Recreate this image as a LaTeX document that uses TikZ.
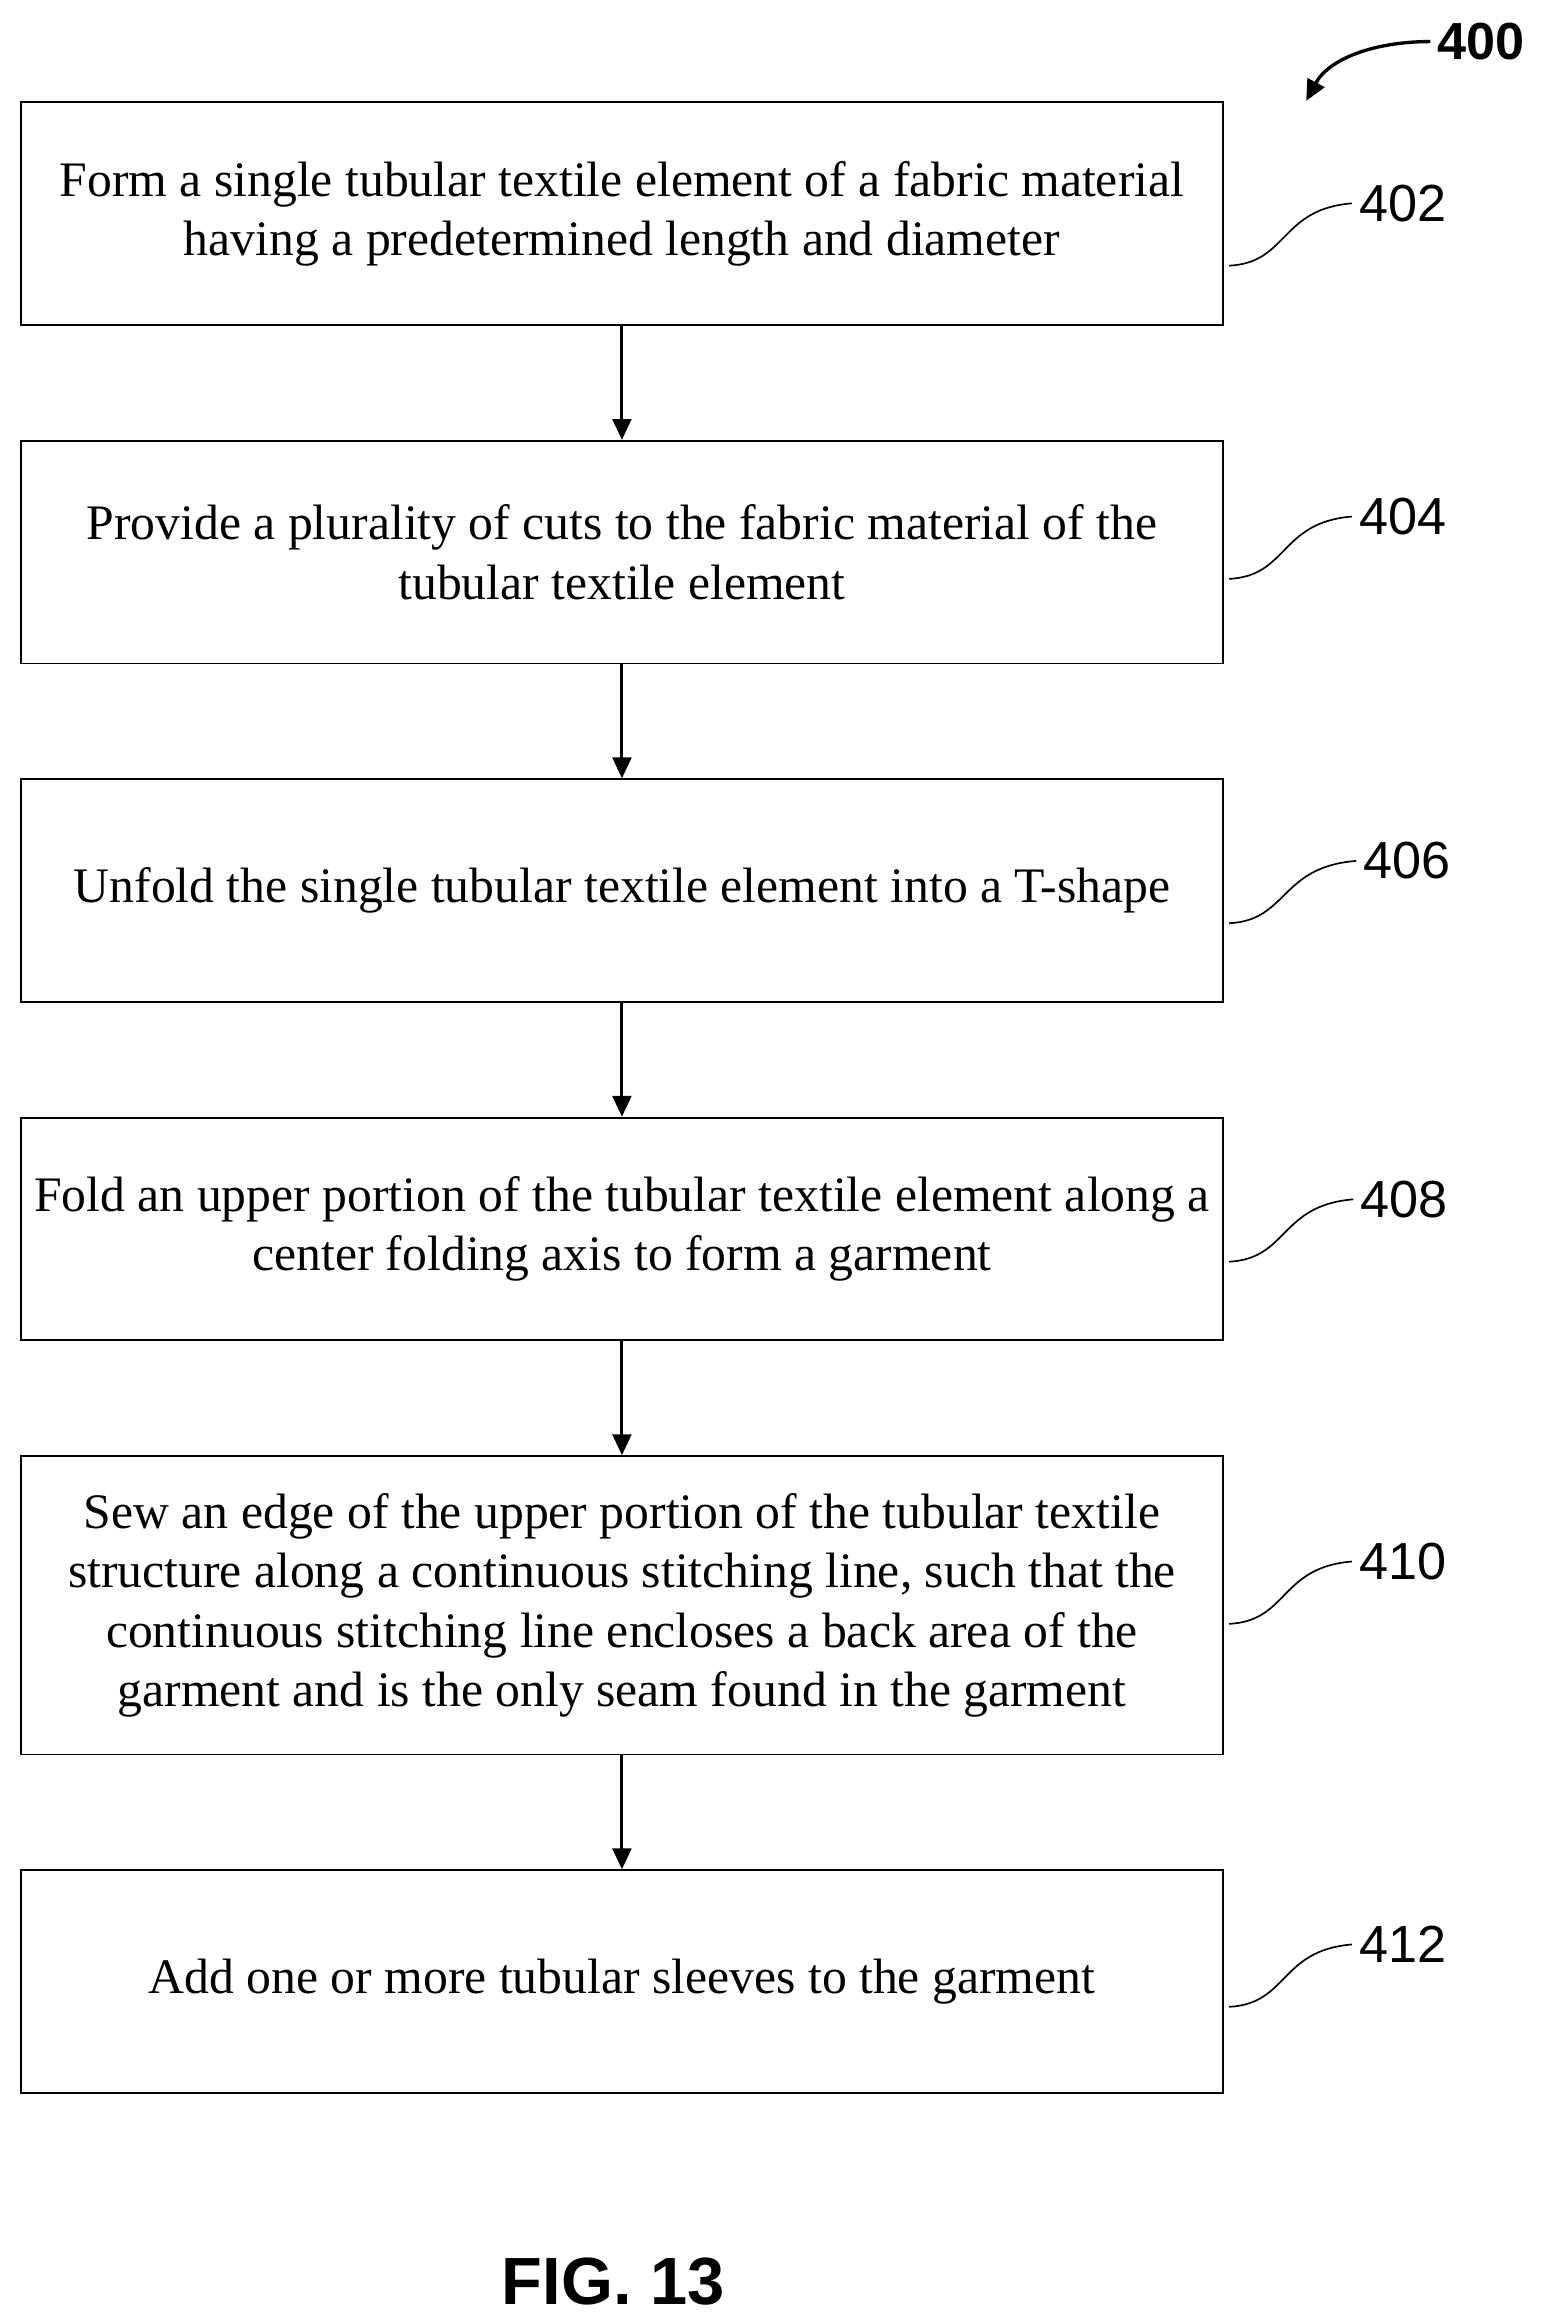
\documentclass[tikz,border=0pt]{standalone}
\usepackage{fontspec}
\setmainfont{Liberation Serif}
\setsansfont{Liberation Sans}
\usetikzlibrary{arrows.meta}
\begin{document}
\begin{tikzpicture}[x=0.025cm,y=-0.025cm,
  box/.style={draw,line width=0.9pt,minimum width=810*0.025cm,align=center,font=\fontsize{23.8}{28.5}\selectfont,inner sep=0pt},
  lab/.style={font=\sffamily\fontsize{25}{25}\selectfont},
  arr/.style={-{Triangle[length=10pt,width=9pt]},line width=1.4pt},
  sq/.style={line width=0.8pt}]
\useasboundingbox (0,0) rectangle (1040,1563);
\node[box,minimum height=150*0.025cm] (b1) at (419,144) {Form a single tubular textile element of a fabric material\\having a predetermined length and diameter};
\node[box,minimum height=150*0.025cm] (b2) at (419,372) {Provide a plurality of cuts to the fabric material of the\\tubular textile element};
\node[box,minimum height=150*0.025cm] (b3) at (419,600) {Unfold the single tubular textile element into a T-shape};
\node[box,minimum height=150*0.025cm] (b4) at (419,828) {Fold an upper portion of the tubular textile element along a\\center folding axis to form a garment};
\node[box,minimum height=201*0.025cm] (b5) at (419,1081.5) {Sew an edge of the upper portion of the tubular textile\\structure along a continuous stitching line, such that the\\continuous stitching line encloses a back area of the\\garment and is the only seam found in the garment};
\node[box,minimum height=150*0.025cm] (b6) at (419,1335) {Add one or more tubular sleeves to the garment};
\foreach \a/\b in {b1/b2,b2/b3,b3/b4,b4/b5,b5/b6} \draw[arr] (\a) -- (\b);
\foreach \n/\y/\lx in {402/137/945,404/348/945,406/580/948,408/808/946,410/1052/945,412/1310/945}{
  \node[lab] (l\n) at (\lx,\y) {\n};
  \coordinate (s\n) at (828,\y+42);
  \draw[sq] (s\n) .. controls (868,\y+40) and (862,\y+4) .. (l\n.west);
}
\node[lab,font=\sffamily\bfseries\fontsize{25}{25}\selectfont] (l400) at (998,28) {400};
\coordinate (t400) at (880,68);
\draw[-{Triangle[length=10pt,width=9pt]},line width=1.6pt] (l400.west) .. controls (925,28) and (895,40) .. (t400);
\node[font=\sffamily\bfseries\fontsize{32}{32}\selectfont] (fig) at (413,1537) {FIG. 13};
\end{tikzpicture}
\end{document}
